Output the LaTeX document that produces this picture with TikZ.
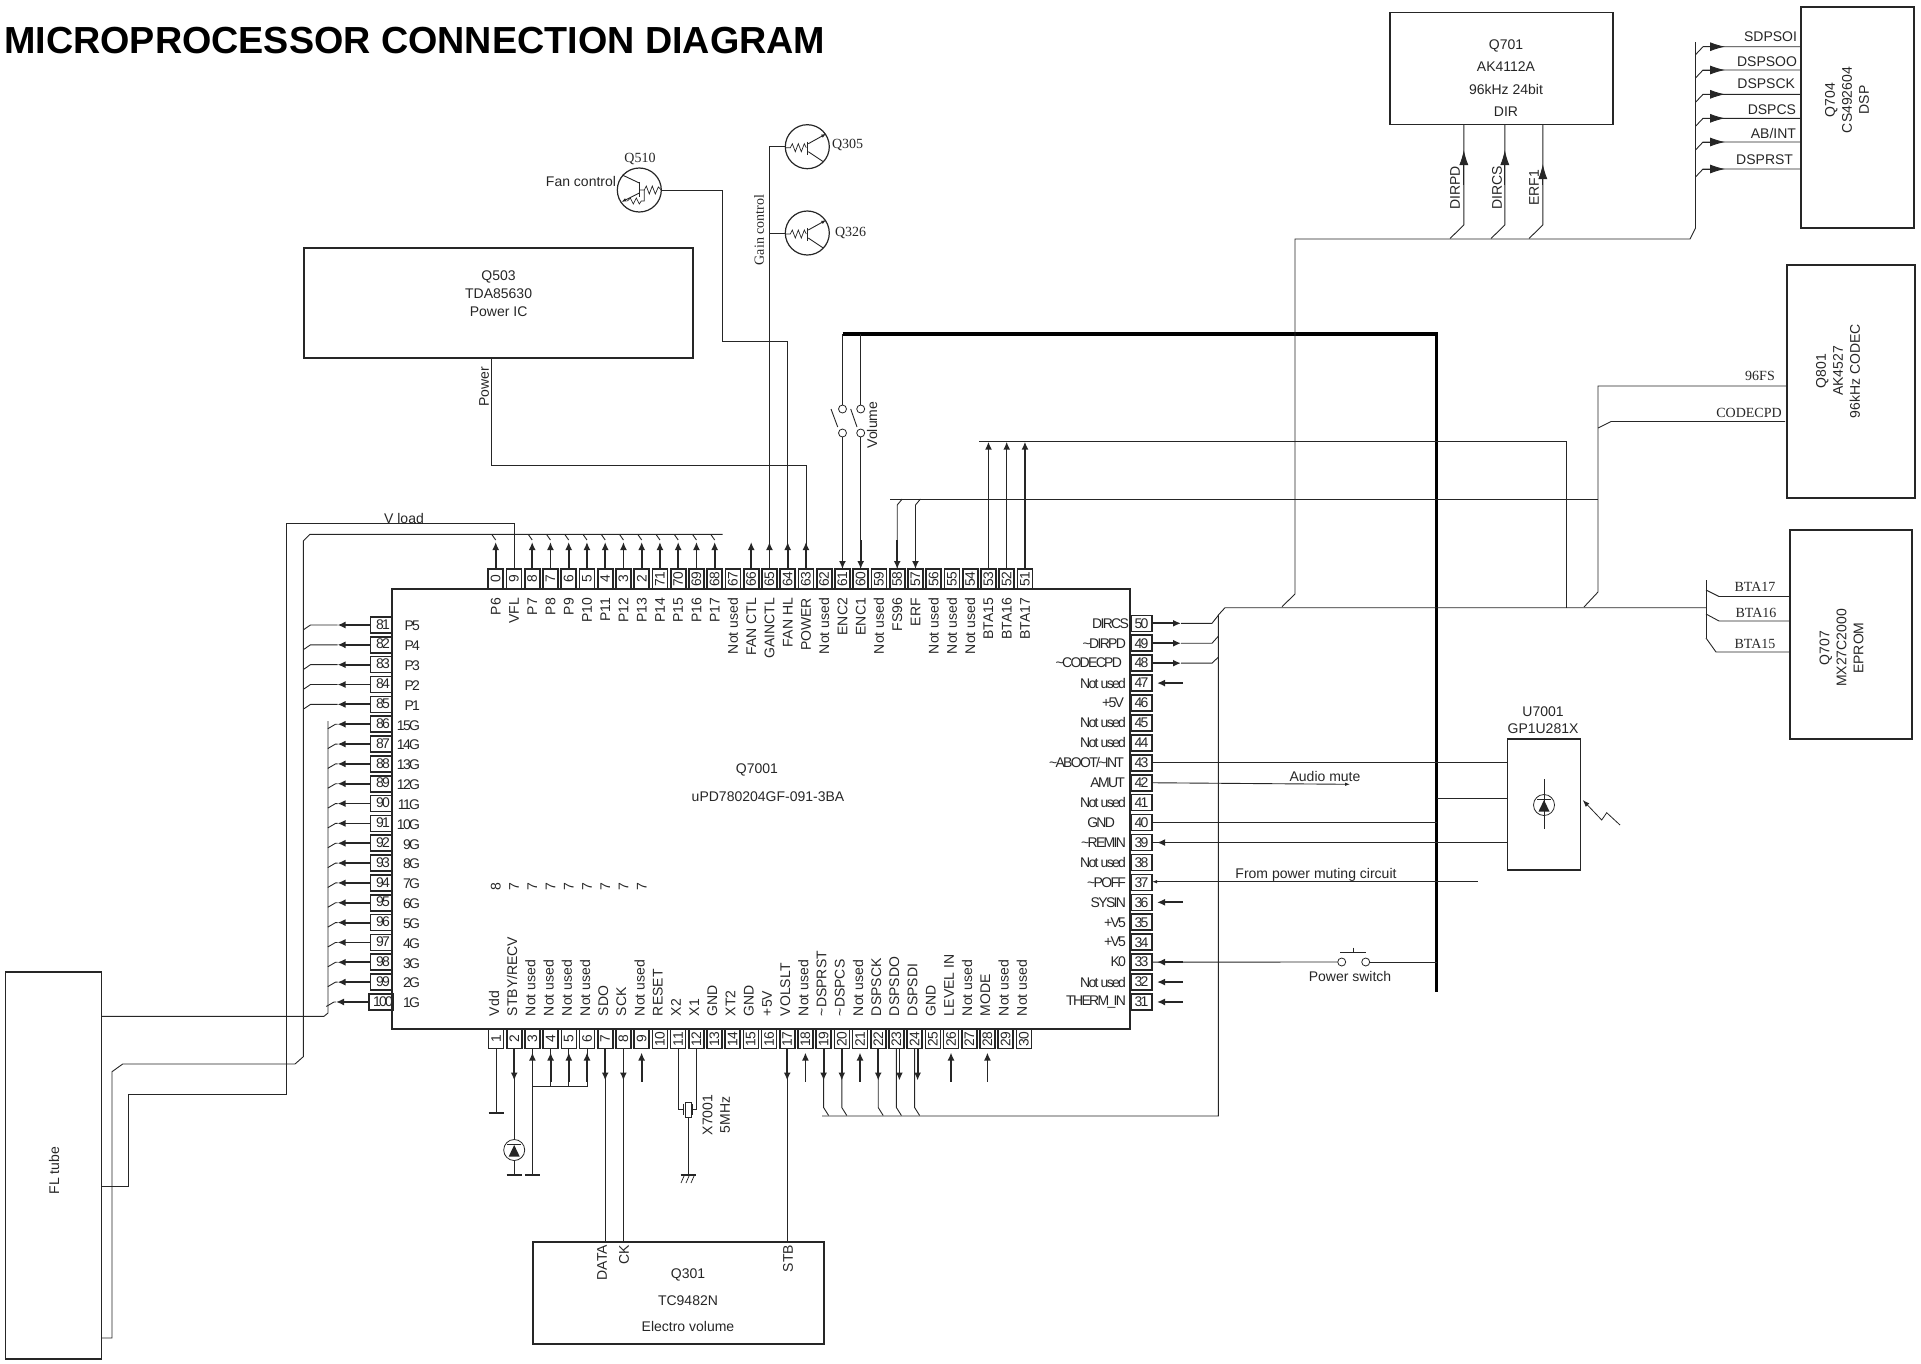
\documentclass[tikz,border=0pt]{standalone}
\usepackage{graphicx}
\usepackage{fontspec}
\setmainfont{Liberation Sans}
\newfontfamily\tightfont[LetterSpace=-12]{Liberation Sans}
\newfontfamily\serfont{Liberation Serif}
\usetikzlibrary{arrows.meta}
\definecolor{ink}{HTML}{262626}
\newcommand{\tld}{\textasciitilde}
\tikzset{
    wire/.style={line width=.9pt,ink},
    heavywire/.style={line width=1.5pt,ink},
    mainbus/.style={line width=3.2pt,black},
    pinarrow/.style={line width=1.8pt,ink,-{Latex[length=8pt,width=7pt]}},
    bigarrow/.style={line width=.9pt,ink,-{Latex[length=15pt,width=9pt]}},
    smallarrow/.style={line width=.9pt,ink,-{Latex[length=5pt,width=3.5pt]}},
    gndbar/.style={line width=1.6pt,ink},
    block/.style={draw=ink,line width=1.1pt,inner sep=0pt,outer sep=0pt},
    chipbox/.style={block,line width=1.6pt},
    pinbox/.style={draw=ink,line width=1.6pt,inner sep=0pt,outer sep=0pt,text=ink},
    vpin/.style={pinbox,minimum width=15pt,minimum height=20pt,font=\fontsize{13.8}{13.8}\selectfont},
    hpin/.style={pinbox,minimum width=21pt,minimum height=16pt,font=\tightfont\fontsize{14}{14}\selectfont},
    txt/.style={inner sep=0pt,outer sep=0pt,text=ink,font=\fontsize{14}{17}\selectfont},
    tighttxt/.style={txt,font=\tightfont\fontsize{14}{14}\selectfont},
    serftxt/.style={txt,font=\serfont\fontsize{14}{14}\selectfont},
    qcircle/.style={circle,draw=ink,line width=1.2pt,minimum size=44pt,inner sep=0pt,outer sep=0pt},
    swcircle/.style={circle,draw=ink,line width=.8pt,minimum size=8pt,inner sep=0pt,outer sep=0pt},
    ledcircle/.style={circle,draw=ink,line width=.8pt,minimum size=21pt,inner sep=0pt,outer sep=0pt},
    ampq/.pic={
        \draw[wire,line width=.7pt] (-22,1)--(-17,1)--(-15,-3)--(-12,5)--(-9,-3)--(-6,5)--(-3,-3)--(-1,1);
        \draw[wire] (0,-5)--(0,8);
        \draw[smallarrow] (1,-3)--(19,-13);
        \draw[wire] (1,5)--(16,15);
    },
    fanq/.pic={
        \draw[wire] (0,-8)--(0,7);
        \draw[wire] (0,-7)--(-17,-15);
        \draw[smallarrow] (0,3)--(-18,12);
        \draw[wire,line width=.7pt] (0,0)--(5,0)--(7,-4)--(10,4)--(13,-4)--(16,4)--(19,-3)--(22,0);
        \draw[wire,line width=.7pt] (5,0)--(5,11)--(2,11)--(0,14)--(-3,8)--(-6,14)--(-9,8)--(-12,11);
    },
    ledmark/.pic={
        \draw[wire] (-7,-6)--(7,-6);
        \fill[ink] (0,-5)--(5.5,6.5)--(-5.5,6.5)--cycle;
    }
}
\begin{document}
\begin{tikzpicture}[x=1pt,y=-1pt]
    \useasboundingbox (0,0) rectangle (1921,1363);
    \node[anchor=west,inner sep=0pt,text=black,font=\bfseries\fontsize{37.7}{37.7}\selectfont] (title) at (4,41) {MICROPROCESSOR CONNECTION DIAGRAM};

    % blocks
    \node[chipbox,minimum width=738pt,minimum height=440pt] (q7001) at (761,809) {};
    \node[txt] (q7001a) at (757,769.5) {Q7001};
    \node[txt] (q7001b) at (768,797) {uPD780204GF-091-3BA};
    \node[block,line width=1.4pt,minimum width=389pt,minimum height=110pt] (q503) at (498.3,303) {};
    \node[txt,align=center,font=\fontsize{14}{17.7}\selectfont] (q503t) at (498.6,293.5) {Q503\\TDA85630\\Power IC};
    \node[block,minimum width=223pt,minimum height=111.5pt] (q701) at (1501.5,68.5) {};
    \node[txt,align=center,font=\fontsize{14}{22.4}\selectfont] (q701t) at (1506,78) {Q701\\AK4112A\\96kHz 24bit\\DIR};
    \node[block,minimum width=113pt,minimum height=221pt] (q704) at (1857.5,117.5) {};
    \node[txt,align=center,rotate=90] (q704t) at (1847,100) {Q704\\CS492604\\DSP};
    \node[block,minimum width=128pt,minimum height=233pt] (q801) at (1851,381.5) {};
    \node[txt,align=center,rotate=90] (q801t) at (1838,371) {Q801\\AK4527\\96kHz CODEC};
    \node[block,minimum width=122pt,minimum height=209pt] (q707) at (1851,634.5) {};
    \node[txt,align=center,rotate=90] (q707t) at (1841.5,648) {Q707\\MX27C2000\\EPROM};
    \node[block,minimum width=73pt,minimum height=131pt] (u7001) at (1544,804.5) {};
    \node[txt,align=center] (u7001t) at (1543,720.5) {U7001\\GP1U281X};
    \node[block,line width=1.4pt,minimum width=291pt,minimum height=102pt] (q301) at (678.5,1293) {};
    \node[txt,align=center,font=\fontsize{14}{26.5}\selectfont] (q301t) at (688,1300.5) {Q301\\TC9482N\\Electro volume};
    \node[block,line width=1.4pt,minimum width=96pt,minimum height=387pt] (fl) at (53.7,1165.5) {};
    \node[txt,rotate=90] (flt) at (54,1170.7) {FL tube};

    % pins
    \foreach \t/\l [count=\k from 0] in {0/P6,9/VFL,8/P7,7/P8,6/P9,5/P10,4/P11,3/P12,2/P13,71/P14,70/P15,69/P16,68/P17,67/Not used,66/FAN CTL,65/GAINCTL,64/FAN HL,63/POWER,62/Not used,61/ENC2,60/ENC1,59/Not used,58/FS96,57/ERF,56/Not used,55/Not used,54/Not used,53/BTA15,52/BTA16,51/BTA17}{
        \pgfmathtruncatemacro\n{80-\k}
        \node[vpin] (pin\n) at (495.7+18.25*\k,579) {\rotatebox{90}{\t}};
        \node[txt,rotate=90,anchor=east] (lbl\n) at (495.7+18.25*\k,598) {\l};
    }
    \foreach \n/\l [count=\k from 0] in {81/P5,82/P4,83/P3,84/P2,85/P1,86/15G,87/14G,88/13G,89/12G,90/11G,91/10G,92/9G,93/8G,94/7G,95/6G,96/5G,97/4G,98/3G,99/2G,100/1G}{
        \node[hpin] (pin\n) at (381,625+19.84*\k) {\hspace{4pt}\raisebox{1.5pt}{\n}};
        \node[tighttxt,anchor=east] (lbl\n) at (420,626+19.84*\k) {\l};
    }
    \foreach \n/\l/\r [count=\k from 0] in {50/DIRCS/1129,49/\tld DIRPD/1126,48/\tld CODECPD/1122,47/Not used/1126,46/+5V/1124,45/Not used/1126,44/Not used/1126,43/{\tld ABOOT/\tld INT}/1124,42/AMUT/1125,41/Not used/1126,40/GND/1115,39/\tld REMIN/1126,38/Not used/1126,37/\tld POFF/1126,36/SYSIN/1126,35/+V5/1126,34/+V5/1126,33/K0/1126,32/Not used/1126,31/THERM\_IN/1126}{
        \node[hpin] (pin\n) at (1141.5,623.3+19.93*\k) {\n};
        \node[tighttxt,anchor=east] (lbl\n) at (\r,623.3+19.93*\k) {\l};
    }
    \foreach \l [count=\n from 1] in {Vdd,STBY/RECV,Not used,Not used,Not used,Not used,SDO,SCK,Not used,RESET,X2,X1,GND,XT2,GND,+5V,VOLSLT,Not used,\tld DSPRST,\tld DSPCS,Not used,DSPSCK,DSPSDO,DSPSDI,GND,LEVEL IN,Not used,MODE,Not used,Not used}{
        \node[vpin,minimum height=19pt] (pin\n) at (496+18.2*\n-18.2,1039) {\rotatebox{90}{\n}};
        \node[txt,rotate=90,anchor=west] (lbl\n) at (494+18.2*\n-18.2,1016) {\l};
    }
    \foreach \d [count=\k from 0] in {8,7,7,7,7,7,7,7,7}
        \node[txt,rotate=90] (cut\k) at (495.7+18.25*\k,887) {\d};

    % top side
    \foreach \n in {80,78,77,76,75,74,73,72,71,70,69,68}{
        \draw[pinarrow] (pin\n.north) -- ++(0,-27);
        \draw[wire] (pin\n.north) ++(0,-29) -- ++(-4,-5.7);
    }
    \foreach \n in {66,65,64,63}
        \draw[pinarrow] (pin\n.north) -- ++(0,-27);
    \foreach \n in {61,60,58,57}
        \draw[pinarrow] (pin\n.north) ++(0,-29) -- (pin\n.north);
    \coordinate (topbusL) at (310,534.3);
    \coordinate (topbusR) at (722.7,534.3);
    \coordinate (vlinner) at (303.3,541);
    \draw[wire] (topbusR) -- (topbusL) -- (vlinner) -- (303.3,1056.7) -- (295,1064) -- (122.7,1064) -- (112,1071.7) -- (112,1338) -- (fl.east |- 0,1338);
    \coordinate (vload) at (286,523.3);
    \draw[wire] (pin79.north) |- (vload) -- (286,1094) -- (128.3,1094) -- (128.3,1186) -- (fl.east |- 0,1186);
    \node[txt] (vloadt) at (404,518) {V load};

    \node[qcircle] (q510) at (639.3,190) {};
    \pic at (q510) {fanq};
    \node[serftxt] (q510t) at (640,158.5) {Q510};
    \node[txt,anchor=east] (fant) at (616,181) {Fan control};
    \node[qcircle] (q305) at (807.3,146.7) {};
    \pic at (q305) {ampq};
    \node[serftxt,anchor=west] (q305t) at (832,145) {Q305};
    \node[qcircle] (q326) at (807.3,233) {};
    \pic at (q326) {ampq};
    \node[serftxt,anchor=west] (q326t) at (835,233) {Q326};
    \node[serftxt,rotate=90] (gaint) at (759,230) {Gain control};
    \draw[wire] (pin65.north) |- (q305.west);
    \draw[wire] (pin65 |- q326.west) -- (q326.west);
    \coordinate (fanbend) at (722.3,341.7);
    \draw[wire] (pin64.north) |- (fanbend) |- (q510.east);
    \coordinate (powerdrop) at (491,465.3);
    \draw[wire] (pin63.north) |- (powerdrop) -- (powerdrop |- q503.south);
    \node[txt,rotate=90] (powert) at (484,387) {Power};

    \coordinate (busTL) at (842.5,334);
    \coordinate (busTR) at (1436.7,334);
    \coordinate (busB) at (1436.7,992);
    \draw[mainbus] (busTL) -- (busTR) -- (busB);
    \node[swcircle] (swa) at (842.5,409) {};
    \node[swcircle] (swb) at (842.5,433) {};
    \node[swcircle] (swc) at (860.7,409) {};
    \node[swcircle] (swd) at (860.7,433) {};
    \draw[wire] (pin61.north) -- (swb.south);
    \draw[wire] (swa.north) -- (swa |- busTL);
    \draw[wire] (pin60.north) -- (swd.south);
    \draw[wire] (swc.north) -- (swc |- busTL);
    \draw[wire] (837.7,427) -- (831,409);
    \draw[wire] (857,427) -- (850.7,409);
    \node[txt,rotate=90] (volt) at (872,425) {Volume};

    \coordinate (ctlL) at (890,499);
    \coordinate (ctlR) at (1598,499);
    \draw[wire] (ctlL) -- (ctlR);
    \draw[wire] (pin58.north) -- ++(0,-64) -- ++(5,-6);
    \draw[wire] (pin57.north) -- ++(0,-64) -- ++(5,-6);
    \coordinate (btaL) at (979,441.7);
    \coordinate (btaR) at (1566,441.7);
    \draw[wire] (btaL) -- (btaR) -- (1566,607.7);
    \foreach \n in {53,52,51}
        \draw[pinarrow,line width=1.5pt] (pin\n.north) -- (pin\n |- btaL);

    % right side
    \foreach \n/\d in {50/8,49/7,48/6}{
        \draw[pinarrow] (pin\n.east) -- ++(29,0);
        \draw[wire] (pin\n.east) ++(29,0) -- ++(31,0) -- ++(6.3,-\d);
    }
    \foreach \n in {47,39,36,33,32,31}
        \draw[pinarrow] (pin\n.east) ++(31,0) -- ++(-26,0);
    \coordinate (lowbusL) at (822,1116);
    \coordinate (lowbusR) at (1218.3,1116);
    \coordinate (longbusL) at (1225,607.7);
    \coordinate (longbusR) at (1706,607.7);
    \draw[wire] (lowbusL) -- (lowbusR) -- (1218.3,615) -- (longbusL) -- (longbusR);
    \draw[wire] (pin43.east) -- (pin43.east -| u7001.west);
    \draw[smallarrow] (pin42.east) -- (1350,784.3);
    \node[txt] (audiot) at (1325,776.7) {Audio mute};
    \draw[heavywire] (pin40.east) -- (pin40.east -| busTR);
    \coordinate (tapU) at (1436.7,798.3);
    \draw[heavywire] (tapU) -- (tapU -| u7001.west);
    \draw[wire] (pin39.east) -- (pin39.east -| u7001.west);
    \coordinate (poff) at (1477.7,881.7);
    \draw[smallarrow] (poff) -- (poff -| pin37.east);
    \node[txt] (pofft) at (1316,874.5) {From power muting circuit};
    \node[swcircle] (pwa) at (1341.7,962) {};
    \node[swcircle] (pwb) at (1365.7,962) {};
    \draw[wire] (pin33.east) -- (pwa.west);
    \draw[wire] (pwb.east) -- (pwb -| busTR);
    \draw[wire] (1340,952.7) -- (1365.7,952.7) (1353,947.7) -- (1353,952.7);
    \node[txt] (pwt) at (1350,976) {Power switch};
    \node[ledcircle] (led2) at (1544,805) {};
    \pic at (led2) {ledmark};
    \draw[wire] (1544,779) -- (1544,829);
    \draw[smallarrow,line width=.8pt,-{Latex[length=7pt,width=5pt]}] (1620,825) -- (1606.7,812.7) -- (1601.7,820) -- (1582.7,800);

    % left side
    \foreach \n in {81,...,85}{
        \draw[pinarrow] (pin\n.west) -- ++(-33,0);
        \draw[wire] (pin\n.west) ++(-33,0) -- ++(-27,0) -- ++(-6.7,4.5);
    }
    \foreach \n in {86,...,100}{
        \draw[pinarrow] (pin\n.west) -- ++(-33,0);
        \draw[wire] (pin\n.west) ++(-33,0) -- ++(-2,0) -- ++(-7.7,4.5);
    }
    \draw[wire] (328,721) -- (328,1013) -- (324,1016.3) -- (fl.east |- 0,1016.3);

    % bottom side
    \foreach \n in {2,7,8,17,19,20,22}
        \draw[pinarrow] (pin\n.south) -- ++(0,32);
    \foreach \n in {23,24}
        \draw[pinarrow] (pin\n.south) ++(3,0) -- ++(0,32);
    \foreach \n in {3,4,5,6,9,18,21,26,28}
        \draw[pinarrow] (pin\n.south) ++(0,33) -- ++(0,-29);
    \foreach \n in {19,20,22,23,24}
        \draw[wire] (pin\n.south) -- ++(0,59) -- ++(5,8);
    \coordinate (vddend) at (496,1113);
    \draw[wire] (pin1.south) -- (vddend);
    \draw[gndbar] (vddend) ++(-7.5,0) -- ++(15,0);
    \node[ledcircle] (led1) at (514.2,1150) {};
    \pic at (led1) {ledmark};
    \coordinate (ledend) at (514.2,1175);
    \draw[wire] (pin2.south) -- (led1.north) (led1.south) -- (ledend);
    \draw[gndbar] (ledend) ++(-7.5,0) -- ++(15,0);
    \coordinate (nubar) at (532.4,1086);
    \coordinate (nuend) at (532.4,1175);
    \draw[wire] (pin3.south) -- (nuend);
    \draw[gndbar] (nuend) ++(-7.5,0) -- ++(15,0);
    \draw[wire] (pin6.south) |- (nubar);
    \draw[wire] (pin4.south) -- (pin4 |- nubar);
    \draw[wire] (pin5.south) -- (pin5 |- nubar);
    \foreach \n in {7,8,17}
        \draw[wire] (pin\n.south) -- (pin\n |- q301.north);
    \node[txt,rotate=90,anchor=east] (datat) at (602,1245) {DATA};
    \node[txt,rotate=90,anchor=east] (ckt) at (624,1245) {CK};
    \node[txt,rotate=90,anchor=east] (stbt) at (788,1245) {STB};

    \node[draw=ink,line width=.8pt,minimum width=6pt,minimum height=15pt,inner sep=0pt,outer sep=0pt] (x7001) at (688,1109.5) {};
    \coordinate (plateL) at (683.5,1109);
    \coordinate (plateR) at (692.5,1109);
    \draw[wire] (plateL) ++(0,-5.5) -- ++(0,11) (plateR) ++(0,-5.5) -- ++(0,11);
    \draw[wire] (pin11.south) |- (plateL);
    \draw[wire] (pin12.south) |- (plateR);
    \coordinate (xgnd) at (688,1175);
    \draw[wire] (x7001.south) -- (xgnd);
    \draw[gndbar] (xgnd) ++(-7.5,0) -- ++(15,0);
    \foreach \h in {-4,1,6}
        \draw[wire,line width=.7pt] (xgnd) ++(\h,1) -- ++(-3,7);
    \node[txt,rotate=90] (x7001t) at (707.5,1115) {X7001};
    \node[txt,rotate=90] (xmhzt) at (725,1115) {5MHz};

    % q701 and dsp
    \coordinate (dspbusT) at (1695.5,42);
    \draw[wire] (dspbusT) -- (1695.5,228) -- (1690,239) -- (1295,239) -- (1295,594) -- (1282,606.7);
    \foreach \c/\x/\t/\a/\b in {dirpd/1463.8/DIRPD/1455/150,dircs/1504.8/DIRCS/1497/150,erfone/1542.8/ERF1/1534/164}{
        \coordinate (\c) at (\x,225);
        \draw[wire] (\c |- q701.south) -- (\c) -- ++(-13.8,13.5);
        \draw[bigarrow] (\c) ++(0,-40) -- (\x,\b);
        \node[txt,rotate=90] (\c t) at (\a,188) {\t};
    }
    \foreach \c/\yy/\t/\r/\u in {a/46.7/SDPSOI/1797/37,b/70/DSPSOO/1797/62,c/94.3/DSPSCK/1795/84,d/118.3/DSPCS/1796/110,e/142/{AB/INT}/1796/133,f/169/DSPRST/1793/160}{
        \coordinate (dsp\c) at (1703,\yy);
        \draw[wire] (1695.5,\yy+8) -- (dsp\c) -- (dsp\c -| q704.west);
        \draw[bigarrow] (dsp\c) -- ++(22,0);
        \node[txt,anchor=east] (dsp\c t) at (\r,\u) {\t};
    }

    % codec and eprom
    \coordinate (fsbend) at (1598,386);
    \draw[wire] (fsbend -| q801.west) -- (fsbend) -- (1598,592) -- (1584,607);
    \node[serftxt] (fst) at (1760,376) {96FS};
    \coordinate (cpd) at (1611,421.5);
    \draw[wire] (1598,428) -- (cpd) -- (1785,421.5);
    \node[serftxt] (cpdt) at (1749,413) {CODECPD};
    \draw[wire] (longbusR) ++(0,-27.7) -- ++(0,58);
    \draw[wire] (1706,590) -- (1719,596.5) -- (q707.west |- 0,596.5);
    \draw[wire] (1706,614) -- (1719,621) -- (q707.west |- 0,621);
    \draw[wire] (1706,638) -- (1716,652) -- (q707.west |- 0,652);
    \node[serftxt] (ba) at (1755,587) {BTA17};
    \node[serftxt] (bb) at (1756,613) {BTA16};
    \node[serftxt] (bc) at (1755,644) {BTA15};
\end{tikzpicture}
\end{document}
